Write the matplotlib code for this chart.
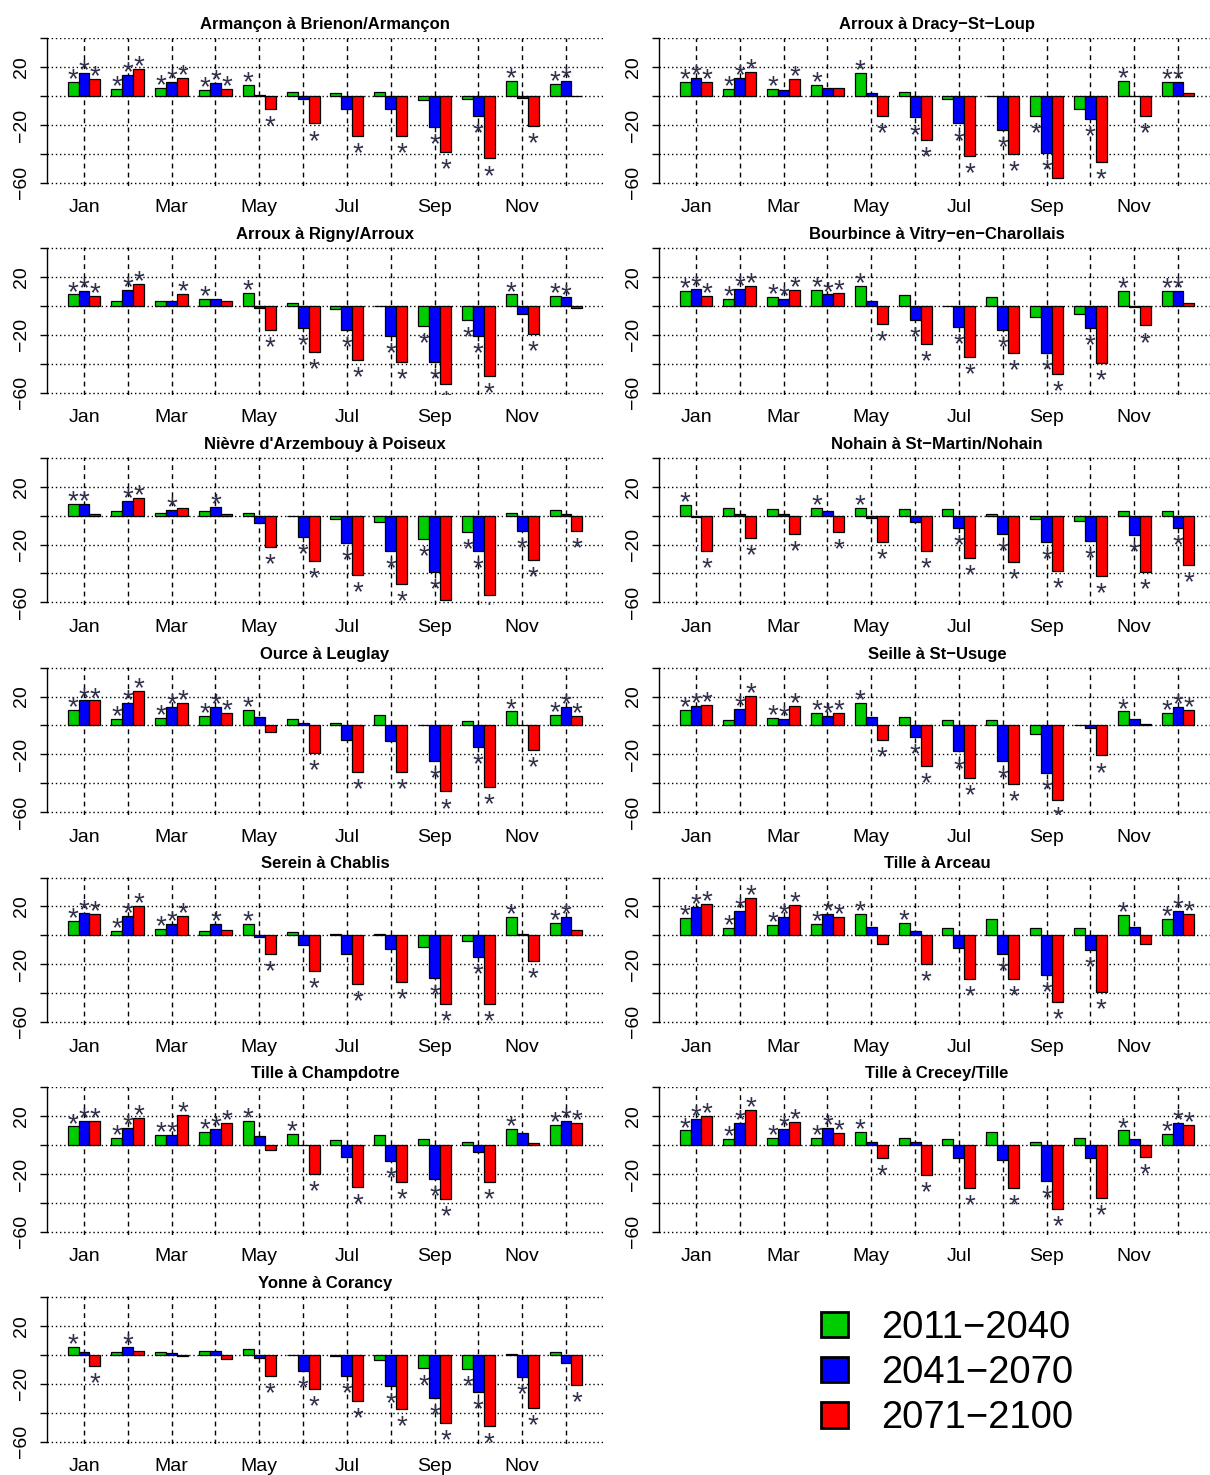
import matplotlib
matplotlib.use("Agg")
import matplotlib.pyplot as plt
from matplotlib.patches import Patch
import numpy as np

plt.rcParams['font.family'] = ['Liberation Sans', 'DejaVu Sans']

months = ["Jan", "Feb", "Mar", "Apr", "May", "Jun", "Jul", "Aug", "Sep", "Oct", "Nov", "Dec"]
periods = ["2011−2040", "2041−2070", "2071−2100"]
colors = ["#00CD00", "#0000FF", "#FF0000"]

# significance strings: G = 2011-2040, B = 2041-2070, R = 2071-2100 marked with "*"
armancon_g = [9.9, 4.6, 5.8, 4.2, 7.6, 3.0, 1.8, 3.0, -2.8, -2.0, 10.6, 8.5]
armancon_b = [15.7, 14.5, 9.7, 8.8, 0.7, -2.0, -9.2, -9.2, -21.7, -13.9, -1.0, 10.6]
armancon_r = [11.8, 18.7, 12.7, 4.8, -9.2, -19.0, -27.7, -27.7, -38.6, -43.2, -20.8, 0.3]
armancon_sig = ["GBR", "GBR", "GBR", "GBR", "GR", "R", "R", "R", "BR", "BR", "GR", "GB"]

dracy_g = [9.9, 4.6, 4.6, 7.6, 15.7, 3.0, -2.0, 0.3, -13.9, -9.0, 10.6, 9.9]
dracy_b = [12.5, 12.5, 3.9, 5.8, 1.8, -14.8, -19.0, -23.6, -39.7, -15.9, 0.0, 9.9]
dracy_r = [9.9, 16.6, 11.8, 5.8, -13.9, -30.5, -41.6, -40.4, -56.4, -45.5, -13.9, 1.8]
dracy_sig = ["GBR", "GBR", "GR", "G", "GR", "BR", "BR", "BR", "GB", "BR", "GR", "GB"]

rigny_g = [7.9, 3.2, 3.2, 4.8, 9.0, 2.1, -2.5, 0.0, -14.1, -9.9, 7.9, 6.9]
rigny_b = [10.2, 10.9, 3.2, 4.8, -1.2, -15.0, -16.9, -20.8, -38.8, -20.8, -5.3, 5.8]
rigny_r = [6.9, 15.0, 8.1, 3.2, -16.9, -31.9, -37.6, -38.8, -54.3, -48.5, -19.6, -1.2]
rigny_sig = ["GBR", "BR", "R", "G", "GR", "BR", "BR", "BR", "GBR", "GBR", "GR", "GB"]

bourbince_g = [10.2, 4.8, 6.0, 11.1, 13.9, 7.2, 0.0, 6.0, -7.9, -5.8, 10.2, 10.2]
bourbince_b = [11.8, 11.8, 4.8, 7.9, 3.5, -9.7, -14.8, -16.6, -32.3, -15.5, -0.9, 10.2]
bourbince_r = [6.9, 13.9, 11.1, 9.2, -12.7, -26.6, -35.1, -32.3, -47.1, -39.3, -13.6, 2.3]
bourbince_sig = ["GBR", "GBR", "GBR", "GBR", "GR", "BR", "BR", "BR", "BR", "BR", "GR", "GB"]

nievre_g = [7.9, 3.2, 1.8, 3.2, 2.1, 0.0, -2.1, -4.6, -16.4, -11.5, 1.8, 4.2]
nievre_b = [7.9, 9.9, 4.2, 6.2, -4.8, -14.8, -18.7, -24.5, -39.0, -24.5, -10.4, 0.9]
nievre_r = [0.9, 12.0, 5.1, 0.9, -21.7, -31.4, -41.3, -47.6, -58.2, -55.2, -30.5, -10.6]
nievre_sig = ["GB", "BR", "B", "B", "R", "BR", "BR", "BR", "GB", "GBR", "BR", "R"]

nohain_g = [7.2, 5.1, 4.4, 5.1, 5.1, 4.4, 4.4, 1.2, -2.3, -3.7, 3.5, 3.5]
nohain_b = [-0.7, 1.2, 1.2, 3.5, -1.4, -4.6, -8.3, -12.7, -18.5, -17.3, -13.4, -8.3]
nohain_r = [-24.2, -15.2, -12.7, -11.5, -18.5, -24.2, -29.1, -32.3, -38.1, -41.8, -39.3, -34.2]
nohain_sig = ["GR", "R", "R", "GR", "GR", "R", "BR", "BR", "BR", "BR", "BR", "BR"]

ource_g = [10.9, 4.6, 5.5, 6.7, 10.9, 4.6, 1.6, 7.4, 0.5, 2.8, 9.7, 7.4]
ource_b = [17.3, 15.5, 12.5, 12.5, 5.8, 1.8, -9.9, -11.1, -24.9, -15.0, 0.0, 12.5]
ource_r = [17.3, 23.6, 15.5, 8.5, -4.8, -19.2, -31.9, -31.9, -45.7, -42.7, -16.9, 6.5]
ource_sig = ["GBR", "GBR", "GBR", "GBR", "G", "R", "R", "R", "BR", "BR", "GR", "GBR"]

seille_g = [10.6, 3.9, 5.5, 8.5, 15.7, 5.8, 3.7, 3.7, -6.0, 0.5, 9.7, 8.5]
seille_b = [13.4, 11.5, 4.6, 6.5, 5.8, -8.1, -18.0, -24.9, -33.0, -2.1, 4.6, 12.5]
seille_r = [14.5, 20.6, 13.6, 8.5, -9.9, -27.9, -36.5, -40.6, -51.5, -20.8, 0.9, 10.6]
seille_sig = ["GBR", "BR", "GBR", "GBR", "GR", "BR", "BR", "BR", "BR", "R", "G", "GBR"]

serein_g = [9.9, 3.0, 4.6, 3.0, 7.9, 2.1, 0.9, 0.9, -7.9, -3.9, 12.9, 8.8]
serein_b = [15.7, 13.6, 7.9, 7.9, -0.9, -6.9, -12.9, -9.7, -29.8, -14.8, 0.9, 12.9]
serein_r = [14.8, 20.6, 13.6, 3.9, -12.9, -24.5, -33.7, -32.6, -47.6, -47.6, -17.8, 3.9]
serein_sig = ["GBR", "GBR", "GBR", "B", "GR", "R", "R", "R", "BR", "BR", "GR", "GB"]

arceau_g = [12.0, 4.8, 7.2, 7.9, 15.0, 8.3, 4.8, 11.1, 4.8, 4.8, 13.9, 11.1]
arceau_b = [19.6, 17.1, 12.9, 15.0, 6.0, 3.2, -8.8, -12.7, -27.5, -10.4, 6.0, 16.9]
arceau_r = [21.9, 25.9, 20.8, 12.9, -5.8, -19.6, -30.3, -30.3, -46.2, -39.3, -5.8, 15.0]
arceau_sig = ["GBR", "GBR", "GBR", "GBR", "G", "GR", "R", "BR", "BR", "BR", "G", "GBR"]

champdotre_g = [12.9, 4.8, 6.9, 9.0, 16.9, 7.9, 3.2, 6.9, 3.9, 2.1, 11.1, 13.9]
champdotre_b = [16.9, 11.8, 6.9, 10.9, 6.0, 0.0, -8.5, -11.3, -23.3, -4.6, 8.1, 16.9]
champdotre_r = [16.9, 18.9, 20.8, 15.0, -3.7, -20.1, -29.3, -25.4, -37.2, -25.4, 1.2, 15.0]
champdotre_sig = ["GBR", "GBR", "GBR", "GBR", "G", "GR", "R", "BR", "BR", "R", "G", "GBR"]

crecey_g = [10.1, 4.0, 4.9, 4.9, 9.2, 5.2, 4.0, 9.2, 2.1, 4.9, 10.1, 8.0]
crecey_b = [18.1, 15.3, 11.1, 12.0, 2.1, 2.1, -8.9, -10.1, -24.7, -8.9, 4.0, 15.3]
crecey_r = [20.0, 24.2, 16.2, 8.2, -8.9, -20.7, -29.9, -29.9, -44.0, -36.9, -8.0, 14.1]
crecey_sig = ["GBR", "GBR", "GBR", "GBR", "GR", "R", "R", "R", "BR", "R", "GR", "GBR"]

corancy_g = [5.3, 2.3, 2.3, 3.0, 4.2, 0.0, -0.9, -3.9, -9.0, -9.7, 0.7, 1.8]
corancy_b = [2.3, 5.3, 1.2, 3.0, -2.1, -10.9, -14.8, -21.7, -29.8, -25.9, -15.5, -5.8]
corancy_r = [-7.9, 3.0, -0.9, -3.2, -14.8, -23.6, -31.7, -37.5, -47.4, -49.5, -36.8, -20.6]
corancy_sig = ["GR", "B", "", "", "R", "BR", "BR", "BR", "GBR", "GBR", "BR", "R"]

stations = [
    ("Armançon à Brienon/Armançon", armancon_g, armancon_b, armancon_r, armancon_sig),
    ("Arroux à Dracy−St−Loup", dracy_g, dracy_b, dracy_r, dracy_sig),
    ("Arroux à Rigny/Arroux", rigny_g, rigny_b, rigny_r, rigny_sig),
    ("Bourbince à Vitry−en−Charollais", bourbince_g, bourbince_b, bourbince_r, bourbince_sig),
    ("Nièvre d'Arzembouy à Poiseux", nievre_g, nievre_b, nievre_r, nievre_sig),
    ("Nohain à St−Martin/Nohain", nohain_g, nohain_b, nohain_r, nohain_sig),
    ("Ource à Leuglay", ource_g, ource_b, ource_r, ource_sig),
    ("Seille à St−Usuge", seille_g, seille_b, seille_r, seille_sig),
    ("Serein à Chablis", serein_g, serein_b, serein_r, serein_sig),
    ("Tille à Arceau", arceau_g, arceau_b, arceau_r, arceau_sig),
    ("Tille à Champdotre", champdotre_g, champdotre_b, champdotre_r, champdotre_sig),
    ("Tille à Crecey/Tille", crecey_g, crecey_b, crecey_r, crecey_sig),
    ("Yonne à Corancy", corancy_g, corancy_b, corancy_r, corancy_sig),
]

W, H = 1210, 1475
fig = plt.figure(figsize=(W / 100, H / 100), dpi=100)

col_x = [47, 659]
ax_w = 556
row_pitch = 209.8
top40 = 38.3
px_per_unit = 1.444
ylo, yhi = -62.0, 40.5

star_color = "#30304a"
codes = "GBR"

for k, (title, g, b, r, sig) in enumerate(stations):
    row, col = k // 2, k % 2
    y_top_px = top40 + row * row_pitch - (yhi - 40) * px_per_unit
    y_bot_px = top40 + row * row_pitch + (40 - ylo) * px_per_unit
    ax = fig.add_axes([col_x[col] / W, 1 - y_bot_px / H, ax_w / W, (y_bot_px - y_top_px) / H])
    ax.set_xlim(-0.88, 49.88)
    ax.set_ylim(ylo, yhi)
    base = np.arange(12) * 4 + 1.5
    # grid
    for yv in range(-60, 41, 20):
        ax.axhline(yv, color="black", lw=1.0, ls=(0, (1, 2)), zorder=1)
    for xc in base + 1:
        ax.axvline(xc, color="black", lw=1.0, ls=(0, (3.5, 3)), zorder=1)
    for j, vals in enumerate([g, b, r]):
        xs = base + j
        ax.bar(xs, vals, width=1.0, color=colors[j], edgecolor="black", linewidth=0.9, zorder=2)
        for i, v in enumerate(vals):
            if codes[j] in sig[i]:
                off = -3.8 if v >= 0 else -18.2
                ax.annotate("*", xy=(xs[i], v), xytext=(0, off), textcoords="offset points",
                            ha="center", va="baseline", fontsize=20, color=star_color,
                            annotation_clip=False, clip_on=True, zorder=3)
    for s in ["top", "right", "bottom"]:
        ax.spines[s].set_visible(False)
    ax.spines["left"].set_bounds(-60, 40)
    ax.spines["left"].set_linewidth(1.0)
    ax.set_yticks([-60, -40, -20, 0, 20, 40])
    ax.set_yticklabels(["−60", "", "−20", "", "20", ""], rotation=90, va="center", fontsize=14)
    ax.tick_params(axis="y", length=5, width=1.0, pad=7)
    ax.set_xticks(base[::2] + 1)
    ax.set_xticklabels(months[::2], fontsize=14)
    ax.tick_params(axis="x", length=0, pad=10)
    ax.set_title(title, fontsize=12, fontweight="bold", pad=6)

handles = [Patch(facecolor=c, edgecolor="black", linewidth=2) for c in colors]
fig.legend(handles, periods, loc="center left", bbox_to_anchor=(821 / W, 1 - 1373 / H),
           frameon=False, fontsize=27.5, handlelength=0.7, handleheight=0.66,
           handletextpad=0.88, labelspacing=0.24, borderpad=0, borderaxespad=0)

fig.savefig("out.png", dpi=100)
